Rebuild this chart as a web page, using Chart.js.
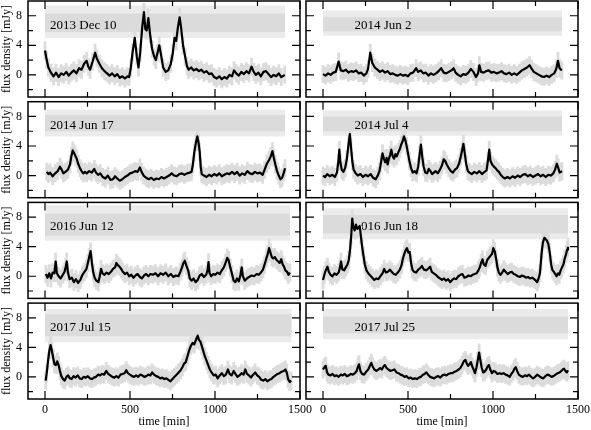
<!DOCTYPE html>
<html>
<head>
<meta charset="utf-8">
<script src="https://cdn.jsdelivr.net/npm/chart.js@4"></script>
<style>
  body { margin: 0; background: #fff; }
  #wrap { position: relative; width: 591px; height: 430px; }
  #wrap canvas { position: absolute; left: 0; top: 0; }
</style>
</head>
<body>
<div id="wrap"></div>
<script>
// light curves, [time in min, flux density in mJy]
const dec10_2013 = [[0,3.3],[10,2.0],[20,1.0],[35,0.3],[50,-0.2],[65,0.3],[80,-0.3],[95,0.2],[110,0],[125,0.4],[140,-0.1],[155,0.3],[170,0.6],[185,0.2],[200,0.9],[215,0.7],[230,1.5],[245,1.9],[255,1.1],[265,0.7],[280,1.8],[295,3.0],[305,2.2],[320,1.5],[335,0.9],[350,0.5],[365,0.2],[380,-0.1],[395,0.2],[410,-0.2],[425,0.1],[440,-0.4],[455,-0.2],[470,-0.5],[485,-0.2],[495,-0.3],[505,1.0],[515,3.0],[528,5.0],[540,2.5],[550,1.0],[560,3.0],[572,6.5],[582,8.5],[590,6.2],[598,6.0],[608,7.7],[618,5.5],[630,3.5],[642,2.5],[652,2.0],[662,3.0],[672,4.0],[682,2.8],[695,1.0],[710,0.4],[725,0.6],[740,1.5],[752,3.0],[762,5.0],[772,4.6],[782,6.5],[792,7.8],[800,6.5],[812,4.0],[824,2.5],[835,1.2],[845,0.7],[860,1.0],[875,0.6],[890,0.8],[905,0.5],[920,0.7],[935,0.3],[950,0.5],[965,0.1],[980,0.2],[995,-0.3],[1010,-0.5],[1025,-0.2],[1040,-0.6],[1055,-0.3],[1070,-0.5],[1085,0.0],[1100,-0.2],[1112,0.6],[1125,0.2],[1140,-0.1],[1155,0.4],[1170,0.1],[1185,0.5],[1200,0.2],[1215,1.1],[1228,0.4],[1240,0.0],[1255,0.3],[1270,-0.2],[1285,0.4],[1300,0.5],[1315,0.1],[1330,-0.3],[1345,0.0],[1360,-0.2],[1375,0.2],[1390,-0.3],[1410,0.0]];

const jun2_2014 = [[0,0.1],[15,-0.1],[30,0.2],[45,0.0],[60,0.3],[75,0.4],[92,1.8],[105,0.6],[120,0.5],[135,0.7],[150,0.3],[165,0.5],[180,0.4],[195,0.6],[210,0.2],[225,0.3],[240,-0.1],[255,0.2],[265,0.8],[278,3.0],[290,1.6],[305,1.0],[320,0.7],[335,0.4],[350,0.6],[365,0.3],[380,0.5],[395,0.1],[410,0.2],[425,0.0],[440,-0.1],[455,0.1],[470,-0.1],[485,0.0],[500,-0.2],[515,0.2],[530,0.3],[548,0.9],[560,0.4],[575,0.6],[590,0.2],[605,0.3],[620,-0.1],[635,0.2],[650,0.0],[665,0.2],[680,0.5],[695,0.9],[710,0.3],[725,0.2],[740,0.4],[755,0.6],[768,0.9],[780,0.3],[795,0.0],[810,-0.2],[825,0.1],[840,0.0],[855,0.3],[870,0.8],[885,0.4],[900,-0.3],[912,0.2],[920,1.3],[930,0.4],[945,0.3],[960,0.5],[975,0.6],[990,0.3],[1005,0.4],[1020,0.2],[1035,0.3],[1050,0.5],[1065,0.2],[1080,0.1],[1095,0.3],[1110,0.0],[1125,0.2],[1140,0.0],[1155,0.3],[1170,0.6],[1185,0.8],[1200,1.0],[1215,1.3],[1228,0.8],[1240,0.4],[1255,0.2],[1270,0.0],[1285,-0.2],[1300,-0.3],[1315,-0.1],[1330,-0.3],[1345,0.0],[1360,0.2],[1372,0.8],[1382,1.9],[1392,0.9],[1405,0.6]];

const jun17_2014 = [[10,0.5],[20,0.2],[30,0.4],[45,-0.1],[60,0.3],[75,0.6],[88,1.2],[98,0.8],[108,0.3],[120,0.5],[135,0.8],[147,1.5],[155,2.6],[163,3.4],[170,3.1],[178,2.7],[186,2.3],[195,1.6],[206,1.0],[215,0.6],[225,0.3],[235,0.5],[245,0.3],[260,0.6],[275,0.4],[290,0.9],[300,0.4],[312,0.1],[325,0.3],[340,-0.2],[355,-0.4],[370,0.0],[385,-0.6],[400,-0.5],[412,-0.1],[425,-0.4],[440,-0.7],[455,-0.5],[470,-0.2],[485,0.0],[500,0.3],[515,0.4],[530,0.6],[545,0.5],[558,1.1],[568,0.5],[580,0.0],[595,-0.3],[610,-0.5],[625,-0.3],[640,-0.6],[655,-0.4],[670,-0.5],[685,-0.2],[700,-0.4],[715,-0.2],[730,0.0],[745,0.3],[760,0.0],[775,-0.1],[790,0.2],[805,0.3],[820,0.1],[835,0.3],[850,0.4],[862,0.5],[870,1.5],[878,3.1],[888,4.5],[896,5.3],[903,4.5],[910,3.2],[916,1.2],[922,0.2],[935,0.0],[950,-0.2],[965,0.1],[980,-0.1],[995,0.2],[1010,0.0],[1025,0.3],[1040,-0.1],[1055,0.1],[1070,0.3],[1085,0.2],[1100,0.5],[1115,0.2],[1130,0.5],[1145,0.0],[1160,0.3],[1175,0.1],[1190,0.6],[1205,0.3],[1220,0.2],[1235,0.5],[1250,0.3],[1265,0.4],[1280,0.1],[1292,0.8],[1305,1.6],[1318,2.1],[1328,2.6],[1338,3.3],[1346,2.4],[1355,1.5],[1365,0.6],[1375,0.0],[1385,-0.5],[1395,-0.3],[1405,0.4],[1412,1.0]];

const jul4_2014 = [[0,0.0],[12,-0.2],[25,0.2],[40,-0.1],[55,0.1],[70,-0.2],[82,0.4],[90,1.8],[96,3.5],[102,1.8],[110,0.8],[120,0.5],[130,1.0],[140,2.2],[150,4.2],[158,5.6],[165,3.8],[172,2.0],[180,0.8],[192,0.3],[205,0.0],[220,0.2],[235,-0.2],[250,0.1],[265,-0.1],[280,0.2],[295,-0.3],[310,-0.5],[322,0.0],[332,0.6],[340,1.6],[350,3.0],[358,2.3],[366,1.8],[374,2.4],[380,1.5],[388,2.3],[395,2.8],[402,3.5],[410,2.6],[418,2.3],[426,2.9],[434,2.6],[444,3.2],[452,3.6],[460,4.2],[468,4.6],[476,5.3],[484,4.8],[492,4.0],[500,3.0],[508,2.0],[518,1.0],[528,0.4],[540,0.6],[550,0.3],[560,1.2],[568,2.8],[576,4.2],[584,2.5],[592,1.2],[602,0.4],[612,0.3],[622,0.9],[632,0.6],[642,0.2],[652,0.4],[662,0.6],[675,0.3],[688,0.8],[700,1.4],[710,2.2],[718,2.0],[728,1.5],[740,1.0],[752,0.6],[764,0.4],[776,0.8],[788,1.0],[800,1.6],[810,2.5],[818,3.4],[826,4.3],[834,3.0],[842,1.6],[852,0.6],[862,0.4],[875,0.2],[890,0.5],[905,0.3],[920,0.6],[935,0.2],[950,0.5],[962,0.7],[970,2.0],[978,3.5],[985,2.0],[995,1.5],[1005,1.2],[1015,1.0],[1025,0.7],[1035,0.5],[1045,0.1],[1058,-0.2],[1070,-0.4],[1085,-0.2],[1100,-0.4],[1115,-0.1],[1130,-0.3],[1145,0.0],[1160,-0.2],[1175,0.1],[1190,0.2],[1205,-0.1],[1220,0.1],[1235,-0.2],[1250,0.0],[1265,0.2],[1280,-0.1],[1295,0.1],[1310,-0.2],[1325,0.1],[1340,0.0],[1355,0.3],[1365,0.8],[1375,1.6],[1383,1.1],[1392,0.4],[1400,0.5],[1406,0.6]];

const jun12_2016 = [[5,0.3],[15,-0.2],[25,0.4],[35,-0.3],[45,0.5],[55,0.4],[63,2.0],[70,0.4],[80,0.0],[92,-0.3],[105,0.2],[115,0.6],[122,1.3],[128,2.0],[135,0.5],[145,-0.4],[158,-0.2],[170,-0.8],[182,-0.4],[195,-0.9],[208,-0.5],[220,0.2],[232,0.6],[244,1.0],[252,1.8],[260,2.6],[268,3.4],[276,1.8],[284,0.5],[292,-0.2],[302,-0.6],[314,-0.8],[322,0.0],[330,1.0],[338,0.4],[350,0.2],[362,0.5],[375,0.3],[388,0.6],[400,1.0],[412,1.2],[420,1.8],[428,1.5],[438,1.3],[448,1.0],[458,0.6],[470,0.3],[482,0.5],[495,0.0],[508,0.2],[520,-0.2],[532,0.1],[545,0.3],[558,-0.1],[570,-0.3],[582,0.1],[595,0.3],[608,0.0],[620,0.3],[635,0.2],[650,0.4],[665,0.0],[680,0.4],[695,0.2],[710,0.5],[725,0.0],[740,0.3],[755,-0.1],[770,0.1],[785,0.0],[796,0.6],[806,1.2],[814,1.8],[822,2.1],[832,1.4],[842,0.8],[852,-0.3],[862,-0.6],[874,-0.3],[886,-0.8],[898,-0.5],[910,0.1],[922,0.3],[935,-0.1],[948,0.2],[956,0.8],[962,1.9],[968,0.4],[978,0.0],[990,0.3],[1002,0.2],[1015,0.5],[1028,0.3],[1040,0.8],[1052,1.2],[1062,1.8],[1072,2.5],[1080,2.2],[1090,1.2],[1100,0.3],[1110,-0.6],[1120,-0.8],[1130,-0.3],[1140,-0.7],[1150,0.2],[1157,1.2],[1164,0.0],[1175,-0.6],[1188,-0.3],[1200,-0.1],[1215,0.1],[1230,0.0],[1245,0.3],[1258,0.2],[1270,0.5],[1282,0.9],[1292,1.6],[1302,2.4],[1310,3.0],[1318,3.8],[1326,3.2],[1334,2.6],[1342,2.4],[1352,2.6],[1362,2.2],[1372,2.0],[1380,1.8],[1390,2.3],[1398,1.6],[1406,1.3],[1414,0.8],[1424,0.6],[1432,0.2],[1441,0.5]];

const jun18_2016 = [[0,-0.5],[8,0.2],[16,0.8],[26,1.3],[34,0.6],[44,0.2],[56,0.0],[68,0.4],[80,0.2],[92,0.5],[100,1.2],[106,2.0],[114,0.9],[124,0.8],[134,1.2],[144,1.6],[152,2.2],[160,3.8],[166,5.5],[172,7.8],[178,6.8],[186,6.2],[194,7.0],[202,6.4],[210,6.6],[216,6.8],[222,5.6],[230,4.0],[238,2.8],[246,1.6],[256,0.8],[266,0.4],[278,0.1],[290,-0.2],[302,-0.5],[314,-0.3],[326,-0.4],[338,0.0],[350,0.4],[360,1.0],[370,0.5],[382,0.6],[394,0.9],[404,0.6],[416,0.3],[428,0.2],[440,0.5],[452,0.9],[462,1.5],[470,2.4],[478,3.0],[486,3.5],[494,3.8],[502,3.2],[510,3.3],[518,1.8],[526,0.9],[536,0.6],[548,0.5],[560,0.9],[572,1.1],[582,1.4],[594,0.9],[606,0.8],[618,1.0],[630,1.3],[640,0.6],[652,0.4],[664,0.2],[676,-0.1],[688,-0.3],[700,-0.5],[712,-0.3],[724,-0.6],[736,-0.4],[748,-0.8],[760,-0.5],[772,-0.3],[784,-0.4],[796,0.0],[808,0.2],[820,0.3],[832,-0.2],[844,-0.1],[856,0.1],[868,0.0],[880,0.2],[892,0.3],[904,0.4],[914,0.8],[922,1.2],[930,1.8],[938,2.3],[946,1.6],[956,1.4],[966,2.2],[976,2.5],[986,2.8],[994,3.0],[1002,3.8],[1010,3.4],[1018,2.4],[1026,1.2],[1034,0.5],[1044,0.2],[1054,0.5],[1064,0.9],[1074,0.6],[1086,0.3],[1098,0.5],[1110,0.6],[1122,0.3],[1134,0.2],[1146,0.0],[1158,-0.1],[1170,0.1],[1182,0.0],[1194,-0.2],[1206,-0.1],[1218,-0.3],[1230,-0.2],[1242,-0.4],[1252,-0.6],[1260,-0.8],[1268,-0.3],[1276,0.4],[1282,2.0],[1288,3.6],[1294,4.6],[1302,5.2],[1310,5.0],[1318,4.8],[1326,4.3],[1334,3.2],[1342,1.6],[1350,0.8],[1358,0.6],[1366,0.3],[1374,0.0],[1382,0.4],[1390,0.2],[1398,0.8],[1406,1.2],[1414,1.6],[1422,2.4],[1430,3.0],[1436,3.6],[1441,4.0]];

const jul15_2017 = [[4,-0.5],[10,0.5],[18,2.2],[26,3.6],[33,4.3],[40,3.6],[48,2.6],[56,1.7],[64,1.6],[72,2.1],[80,1.6],[88,0.8],[96,0.1],[106,-0.3],[116,-0.5],[126,0.0],[136,0.2],[146,-0.2],[156,-0.3],[168,0.1],[180,-0.1],[192,0.2],[204,-0.2],[216,-0.3],[228,0.0],[240,-0.1],[252,0.1],[264,-0.2],[276,-0.3],[288,-0.1],[300,0.0],[312,0.3],[324,0.2],[336,0.4],[348,0.3],[360,0.8],[372,0.4],[384,0.2],[396,0.0],[408,-0.1],[420,0.1],[432,-0.1],[444,0.3],[456,0.4],[468,0.5],[478,0.9],[488,0.5],[500,0.3],[512,0.1],[524,0.0],[536,0.2],[548,0.0],[560,0.3],[572,0.2],[584,0.0],[596,0.1],[608,0.3],[620,0.2],[630,0.6],[642,0.3],[654,0.1],[666,0.0],[678,-0.2],[690,-0.1],[702,-0.3],[714,-0.2],[726,-0.4],[738,-0.6],[750,-0.3],[762,0.0],[774,0.3],[786,0.6],[798,0.9],[808,1.3],[818,1.8],[828,2.0],[838,2.8],[848,3.6],[858,4.2],[868,4.6],[878,4.4],[888,5.0],[898,5.6],[906,5.0],[914,4.8],[922,4.2],[930,3.6],[940,2.8],[950,2.2],[960,1.6],[970,1.0],[980,0.6],[992,0.2],[1004,0.3],[1016,-0.2],[1028,0.2],[1040,0.5],[1052,0.1],[1064,0.3],[1076,1.0],[1086,0.4],[1098,0.2],[1110,0.8],[1120,0.4],[1132,0.0],[1144,0.2],[1156,0.5],[1168,0.3],[1178,1.0],[1188,0.4],[1200,0.2],[1212,-0.1],[1224,0.3],[1236,0.6],[1248,0.2],[1260,0.0],[1272,-0.4],[1284,-0.5],[1296,-0.3],[1308,-0.6],[1320,-0.4],[1332,-0.3],[1344,0.0],[1356,0.2],[1368,0.4],[1380,0.5],[1392,0.7],[1404,0.8],[1414,1.0],[1422,0.6],[1430,-0.3],[1440,-0.7],[1448,-0.5]];

const jul25_2017 = [[0,1.0],[8,1.3],[16,1.5],[24,0.6],[32,0.3],[44,0.2],[56,0.4],[68,0.1],[80,0.2],[92,0.0],[104,0.3],[116,0.2],[128,0.4],[140,0.1],[152,0.2],[164,0.4],[176,0.3],[188,0.5],[198,0.8],[206,1.4],[212,1.7],[220,0.8],[230,0.4],[242,0.3],[254,0.7],[266,1.0],[276,1.5],[284,1.9],[292,1.4],[302,1.0],[314,0.8],[326,1.0],[336,1.2],[346,1.0],[356,1.4],[364,1.6],[374,1.2],[384,1.0],[396,0.8],[408,0.9],[420,1.0],[432,0.6],[444,0.5],[456,0.3],[468,0.2],[480,0.0],[492,0.1],[504,-0.2],[516,-0.1],[528,-0.3],[540,-0.2],[552,-0.3],[564,-0.1],[576,0.0],[588,0.3],[598,0.4],[608,0.6],[618,0.3],[630,0.0],[642,-0.1],[654,-0.2],[666,0.0],[678,0.1],[690,-0.1],[702,0.2],[714,0.3],[726,0.2],[738,0.4],[750,0.5],[762,0.5],[774,0.7],[786,0.8],[798,1.0],[808,1.2],[818,1.6],[828,2.1],[838,2.3],[846,1.8],[854,1.5],[862,1.7],[870,2.0],[878,1.4],[886,1.0],[894,0.5],[902,1.2],[910,2.2],[918,3.3],[926,2.2],[934,1.2],[942,0.6],[950,0.7],[960,1.0],[968,1.4],[976,1.6],[984,1.0],[994,0.5],[1004,0.8],[1014,0.7],[1026,0.4],[1038,0.5],[1050,0.4],[1062,0.5],[1074,0.3],[1086,0.2],[1098,0.0],[1108,0.4],[1118,0.7],[1126,1.1],[1134,1.3],[1142,0.8],[1152,0.3],[1164,0.1],[1176,0.0],[1188,0.2],[1200,0.1],[1212,0.3],[1224,0.0],[1236,-0.2],[1248,0.0],[1260,0.3],[1272,0.1],[1284,-0.1],[1296,-0.2],[1308,0.1],[1320,0.3],[1332,0.2],[1344,0.0],[1356,0.1],[1368,0.3],[1380,0.5],[1392,0.6],[1402,0.8],[1410,1.0],[1418,1.1],[1426,0.8],[1434,0.6],[1441,0.9]];

const dates = ['2013 Dec 10', '2014 Jun 2', '2014 Jun 17', '2014 Jul 4', '2016 Jun 12', '2016 Jun 18', '2017 Jul 15', '2017 Jul 25'];
const curves = [dec10_2013, jun2_2014, jun17_2014, jul4_2014, jun12_2016, jun18_2016, jul15_2017, jul25_2017];

// reference-source band (grey points near 7 mJy): dense core and sparse halo
const bandEnd = [1412, 1406, 1412, 1406, 1441, 1441, 1451, 1441];
const coreLo = [5.8, 5.9, 6.0, 6.0, 5.5, 5.8, 5.5, 5.9];
const coreHi = [8.3, 7.8, 8.2, 8.0, 8.5, 8.3, 8.5, 8.2];
const haloLo = [5.0, 5.3, 5.3, 5.4, 4.8, 5.0, 4.7, 5.1];
const haloHi = [9.4, 8.7, 8.9, 8.8, 9.6, 9.2, 9.2, 9.2];

const xTicks = [0, 250, 500, 750, 1000, 1250, 1500];
const xLabels = [0, 500, 1000, 1500];
const yTicks = [-2, 0, 2, 4, 6, 8];
const yLabels = [0, 4, 8];

Chart.defaults.font.family = "'Liberation Serif', serif";
Chart.defaults.font.size = 12;
Chart.defaults.color = '#000';

// inward ticks on all four sides plus the box
const frame = {
    id: 'frame',
    afterDraw(chart) {
        const { ctx, chartArea: a, scales: { x, y } } = chart;
        ctx.save();
        ctx.strokeStyle = '#000';
        ctx.lineWidth = 1.2;
        ctx.beginPath();
        xTicks.forEach(v => {
            const px = x.getPixelForValue(v);
            const len = xLabels.includes(v) ? 8 : 5;
            ctx.moveTo(px, a.bottom); ctx.lineTo(px, a.bottom - len);
            ctx.moveTo(px, a.top); ctx.lineTo(px, a.top + len);
        });
        yTicks.forEach(v => {
            const py = y.getPixelForValue(v);
            const len = yLabels.includes(v) ? 8 : 5;
            ctx.moveTo(a.left, py); ctx.lineTo(a.left + len, py);
            ctx.moveTo(a.right, py); ctx.lineTo(a.right - len, py);
        });
        ctx.stroke();
        ctx.lineWidth = 1.5;
        ctx.strokeRect(a.left, a.top, a.right - a.left, a.bottom - a.top);
        ctx.restore();
    }
};

// date label over the grey band, then vertical grey error bars under the curve
const dateLabel = {
    id: 'dateLabel',
    afterDatasetDraw(chart, args, opts) {
        if (args.index !== 1) return;
        const { ctx, chartArea: a, scales: { x, y } } = chart;
        ctx.save();
        ctx.font = "13px 'Liberation Serif', serif";
        ctx.fillStyle = '#000';
        ctx.textBaseline = 'middle';
        ctx.fillText(opts.text, x.getPixelForValue(opts.at), y.getPixelForValue(6.7));
        // error bars, one per sample of the light curve
        ctx.beginPath();
        ctx.rect(a.left, a.top, a.right - a.left, a.bottom - a.top);
        ctx.clip();
        ctx.strokeStyle = '#dcdcdc';
        ctx.lineWidth = 2.8;
        ctx.beginPath();
        chart.getDatasetMeta(0).data.forEach(pt => {
            ctx.moveTo(pt.x, pt.y - opts.err);
            ctx.lineTo(pt.x, pt.y + opts.err);
        });
        ctx.stroke();
        ctx.restore();
    }
};

const rowTops = [1, 101.7, 202.4, 303.1];
const plotH = 96;

curves.forEach((curve, i) => {
    const col = i % 2, row = Math.floor(i / 2);
    const bottomRow = row === 3;
    const xh = bottomRow ? 31 : 1;
    const yw = col === 0 ? 28 : 3;
    const top = rowTops[row];
    const pts = curve.map(p => ({ x: p[0], y: p[1] }));

    const cv = document.createElement('canvas');
    cv.width = 591; cv.height = 430;
    document.getElementById('wrap').appendChild(cv);

    new Chart(cv.getContext('2d'), {
        type: 'line',
        data: {
            datasets: [
                { data: pts, borderColor: '#000', borderWidth: 2.2, borderJoinStyle: 'round', pointRadius: 0, order: 0 },
                { data: [{ x: 0, y: coreHi[i] }, { x: bandEnd[i], y: coreHi[i] }], borderWidth: 0, borderColor: 'rgba(0,0,0,0)', pointRadius: 0, order: 1,
                  fill: { target: { value: coreLo[i] }, above: '#dbdbdb', below: '#dbdbdb' } },
                { data: [{ x: 0, y: haloHi[i] }, { x: bandEnd[i], y: haloHi[i] }], borderWidth: 0, borderColor: 'rgba(0,0,0,0)', pointRadius: 0, order: 2,
                  fill: { target: { value: haloLo[i] }, above: '#ebebeb', below: '#ebebeb' } }
            ]
        },
        options: {
            responsive: false,
            animation: false,
            devicePixelRatio: 1,
            layout: {
                padding: {
                    left: col === 0 ? 0 : 303,
                    right: col === 0 ? 291 : 13,
                    top: top,
                    bottom: Math.max(0, 430 - top - plotH - xh)
                }
            },
            scales: {
                x: {
                    type: 'linear', min: -100, max: 1500,
                    grid: { display: false, drawTicks: false }, border: { display: false },
                    afterBuildTicks: s => { s.ticks = xTicks.map(v => ({ value: v })); },
                    afterFit: s => { s.height = xh; s.paddingLeft = 0; s.paddingRight = 0; },
                    ticks: { display: bottomRow, autoSkip: false, maxRotation: 0, padding: 4,
                             callback: v => xLabels.includes(v) ? String(v) : '' },
                    title: { display: bottomRow, text: 'time [min]', padding: { top: 0, bottom: 1 } }
                },
                y: {
                    min: -3, max: 10,
                    grid: { display: false, drawTicks: false }, border: { display: false },
                    afterBuildTicks: s => { s.ticks = yTicks.map(v => ({ value: v })); },
                    afterFit: s => { s.width = yw; s.paddingTop = 0; s.paddingBottom = 0; },
                    ticks: { display: col === 0, autoSkip: false, padding: 6,
                             callback: v => yLabels.includes(v) ? String(v) : '' },
                    title: { display: col === 0, text: 'flux density [mJy]', padding: { top: 0, bottom: 0 } }
                }
            },
            plugins: {
                legend: { display: false },
                tooltip: { enabled: false },
                dateLabel: { text: dates[i], at: col === 0 ? 30 : 185, err: 9 }
            }
        },
        plugins: [frame, dateLabel]
    });
});
</script>
</body>
</html>
